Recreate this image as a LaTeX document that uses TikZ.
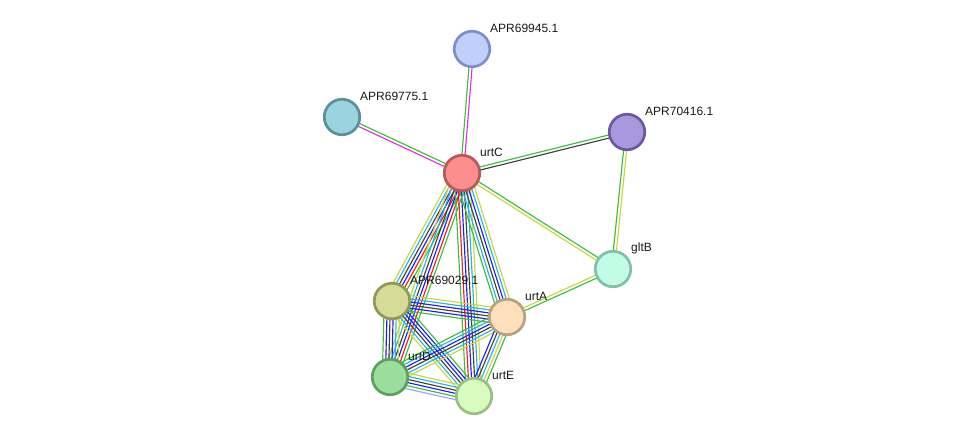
\documentclass[tikz,border=0pt]{standalone}
\usepackage{fontspec}
\setmainfont{Liberation Sans}
\usetikzlibrary{calc,backgrounds}
\definecolor{cgrn}{RGB}{60,190,60}
\definecolor{cyel}{RGB}{200,215,60}
\definecolor{cblk}{RGB}{65,65,65}
\definecolor{cblu}{RGB}{30,30,250}
\definecolor{ccyn}{RGB}{40,180,225}
\definecolor{cred}{RGB}{240,30,30}
\definecolor{cmag}{RGB}{220,50,220}
\definecolor{clav}{RGB}{160,160,255}
\newcommand\medge[4]{%
  \foreach \cc [count=\i] in {#4} {%
    \pgfmathsetmacro\off{(\i-(#3+1)/2)*3.1}%
    \draw[\cc, line width=1.15pt] ($(#1.center)!\off pt!90:(#2.center)$) -- ($(#2.center)!\off pt!-90:(#1.center)$);
  }}
\tikzset{
  prot/.style={circle, minimum size=35.5pt, inner sep=0pt, line width=2.7pt},
  lbl/.style={anchor=west, font=\fontsize{12}{14}\selectfont, inner sep=0pt, text=black!90}
}
\begin{document}
\begin{tikzpicture}[x=1pt,y=-1pt]
\useasboundingbox (0,0) rectangle (976,442);
\node[prot, fill={rgb,255:red,192;green,208;blue,252}, draw={rgb,255:red,126;green,144;blue,200}] (p45) at (472,49) {};
\node[prot, fill={rgb,255:red,153;green,212;blue,224}, draw={rgb,255:red,90;green,144;blue,153}] (p75) at (342,117) {};
\node[prot, fill={rgb,255:red,170;green,152;blue,222}, draw={rgb,255:red,109;green,88;blue,160}] (p16) at (627,132) {};
\node[prot, fill={rgb,255:red,252;green,142;blue,142}, draw={rgb,255:red,184;green,88;blue,88}] (urtC) at (462,173) {};
\node[prot, fill={rgb,255:red,194;green,252;blue,230}, draw={rgb,255:red,128;green,192;blue,168}] (gltB) at (613,269) {};
\node[prot, fill={rgb,255:red,214;green,220;blue,152}, draw={rgb,255:red,147;green,152;blue,88}] (p29) at (392,301) {};
\node[prot, fill={rgb,255:red,253;green,223;blue,188}, draw={rgb,255:red,187;green,160;blue,128}] (urtA) at (507,317) {};
\node[prot, fill={rgb,255:red,156;green,220;blue,156}, draw={rgb,255:red,94;green,160;blue,94}] (urtD) at (390,377) {};
\node[prot, fill={rgb,255:red,216;green,252;blue,192}, draw={rgb,255:red,152;green,192;blue,128}] (urtE) at (474,396) {};

\node[lbl] (t45) at ([xshift=18pt,yshift=21pt]p45.center) {APR69945.1};
\node[lbl] (t75) at ([xshift=18pt,yshift=21pt]p75.center) {APR69775.1};
\node[lbl] (t16) at ([xshift=18pt,yshift=21pt]p16.center) {APR70416.1};
\node[lbl] (tC) at ([xshift=18pt,yshift=21pt]urtC.center) {urtC};
\node[lbl] (tB) at ([xshift=18pt,yshift=21pt]gltB.center) {gltB};
\node[lbl] (t29) at ([xshift=18pt,yshift=21pt]p29.center) {APR69029.1};
\node[lbl] (tA) at ([xshift=18pt,yshift=21pt]urtA.center) {urtA};
\node[lbl] (tD) at ([xshift=18pt,yshift=21pt]urtD.center) {urtD};
\node[lbl] (tE) at ([xshift=18pt,yshift=21pt]urtE.center) {urtE};

\begin{pgfonlayer}{background}
\medge{urtC}{p45}{2}{cmag,cgrn}
\medge{urtC}{p75}{2}{cgrn,cmag}
\medge{urtC}{p16}{2}{cblk,cgrn}
\medge{p16}{gltB}{2}{cgrn,cyel}
\medge{urtC}{gltB}{2}{cyel,cgrn}
\medge{gltB}{urtA}{2}{cyel,cgrn}
\medge{urtC}{p29}{6}{cyel,ccyn,cblk,cblu,cred,cgrn}
\medge{urtC}{urtD}{6}{cyel,ccyn,cblk,cblu,cred,cgrn}
\medge{urtC}{urtE}{6}{cgrn,cred,cblu,cblk,ccyn,cyel}
\medge{urtC}{urtA}{6}{cgrn,ccyn,cblk,cblu,ccyn,cyel}
\medge{p29}{urtA}{6}{cgrn,cblu,cblk,cblu,ccyn,cyel}
\medge{p29}{urtD}{6}{cgrn,cblu,cblk,cblu,ccyn,cyel}
\medge{p29}{urtE}{6}{cyel,ccyn,cblk,cblu,cblu,cgrn}
\medge{urtD}{urtA}{6}{cyel,ccyn,cblk,cblu,ccyn,cgrn}
\medge{urtD}{urtE}{6}{clav,cgrn,cblu,cblk,ccyn,cyel}
\medge{urtA}{urtE}{5}{cblu,cblk,ccyn,cyel,cgrn}
\end{pgfonlayer}
\end{tikzpicture}
\end{document}
